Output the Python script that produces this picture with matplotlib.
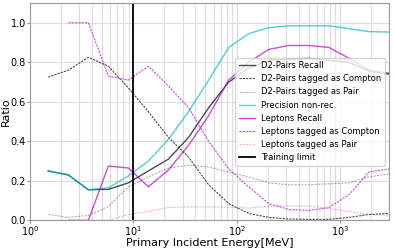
import matplotlib
matplotlib.use("Agg")
import matplotlib.pyplot as plt
import numpy as np

nan = np.nan

# Energy bins (MeV)
energy = [1.5, 2.35, 3.67, 5.74, 8.98, 14.0, 21.9, 34.3, 53.7, 84.0,
          131, 205, 321, 502, 785, 1228, 1920, 3000]

d2_recall = [0.25, 0.23, 0.155, 0.157, 0.19, 0.25, 0.31, 0.42, 0.57, 0.70,
             0.77, 0.81, 0.815, 0.82, 0.81, 0.80, 0.755, 0.74]
d2_compton = [0.725, 0.76, 0.825, 0.78, 0.67, 0.55, 0.42, 0.32, 0.18, 0.085,
              0.035, 0.015, 0.007, 0.005, 0.005, 0.015, 0.03, 0.035]
d2_pair = [0.03, 0.015, 0.025, 0.07, 0.17, 0.22, 0.265, 0.28, 0.27, 0.245,
           0.22, 0.19, 0.18, 0.18, 0.185, 0.19, 0.22, 0.235]
precision = [0.25, 0.23, 0.155, 0.165, 0.225, 0.30, 0.41, 0.55, 0.71, 0.875,
             0.945, 0.975, 0.985, 0.985, 0.985, 0.97, 0.955, 0.953]
lep_recall = [nan, 0.0, 0.0, 0.275, 0.265, 0.17, 0.255, 0.38, 0.53, 0.71,
              0.80, 0.865, 0.885, 0.885, 0.875, 0.82, 0.76, 0.745]
lep_compton = [nan, 1.0, 1.0, 0.73, 0.71, 0.78, 0.68, 0.57, 0.40, 0.26,
               0.17, 0.085, 0.055, 0.05, 0.065, 0.13, 0.245, 0.26]
lep_pair = [nan, 0.0, 0.0, 0.0, 0.03, 0.045, 0.065, 0.068, 0.068, 0.067,
            0.062, 0.072, 0.073, 0.073, 0.06, 0.045, 0.03, 0.026]

training_limit = 10

fig = plt.figure(figsize=(3.95, 2.49), dpi=100)
ax = fig.add_axes([0.076, 0.115, 0.909, 0.873])

ax.plot(energy, d2_recall, color='k', alpha=0.7, lw=1.0, label="D2-Pairs Recall")
ax.plot(energy, d2_compton, color='k', alpha=0.7, lw=0.8, ls='--', dashes=(2, 1),
        label="D2-Pairs tagged as Compton")
ax.plot(energy, d2_pair, color='k', alpha=0.3, lw=0.8, ls='--', dashes=(2, 1),
        label="D2-Pairs tagged as Pair")
ax.plot(energy, precision, color='c', alpha=0.7, lw=1.0, label="Precision non-rec.")
ax.plot(energy, lep_recall, color='m', alpha=0.7, lw=1.0, label="Leptons Recall")
ax.plot(energy, lep_compton, color='m', alpha=0.7, lw=0.8, ls='--', dashes=(2, 1),
        label="Leptons tagged as Compton")
ax.plot(energy, lep_pair, color='m', alpha=0.3, lw=0.8, ls='--', dashes=(2, 1),
        label="Leptons tagged as Pair")
ax.axvline(training_limit, color='k', lw=1.3, label="Training limit")

ax.set_xscale('log')
ax.set_xlim(1, 3000)
ax.set_ylim(0, 1.1)
ax.set_yticks([0.0, 0.2, 0.4, 0.6, 0.8, 1.0])
ax.grid(True, which='major', color='#dddddd', lw=0.8)
ax.grid(True, which='minor', axis='x', color='#dddddd', lw=0.8)
ax.set_axisbelow(True)
for s in ax.spines.values():
    s.set_color('#999999')
ax.tick_params(labelsize=7, length=2, pad=1, color='#999999')
ax.tick_params(which='minor', length=0)

ax.set_xlabel("Primary Incident Energy[MeV]", fontsize=8, labelpad=-0.5)
ax.set_ylabel("Ratio", fontsize=8, labelpad=0)
ax.legend(loc='center right', fontsize=6, handlelength=2.0, labelspacing=0.5,
          borderpad=0.4, handletextpad=0.7, framealpha=0.8)

fig.savefig("out.png", dpi=100)
